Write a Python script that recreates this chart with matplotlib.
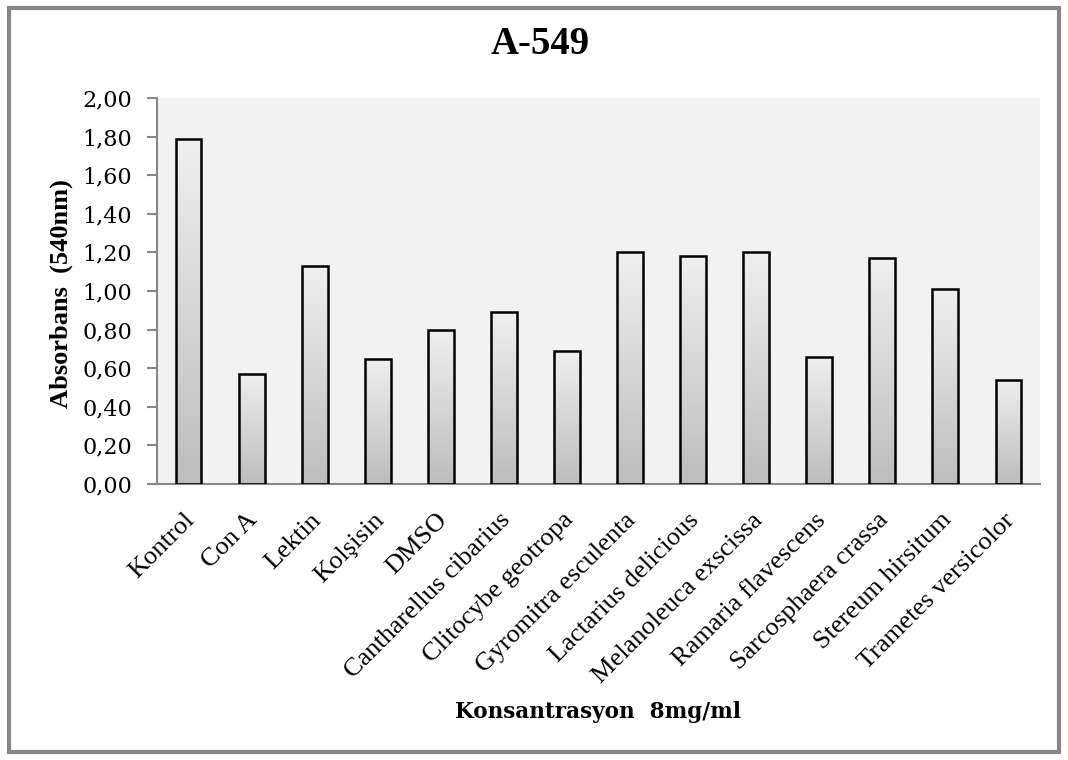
import matplotlib
matplotlib.use("Agg")
import matplotlib.pyplot as plt
import matplotlib.transforms as mtransforms
import numpy as np
from matplotlib.patches import Rectangle
from matplotlib.colors import LinearSegmentedColormap

categories = ["Kontrol", "Con A", "Lektin", "Kolşisin", "DMSO",
              "Cantharellus cibarius", "Clitocybe geotropa", "Gyromitra esculenta",
              "Lactarius delicious", "Melanoleuca exscissa", "Ramaria flavescens",
              "Sarcosphaera crassa", "Stereum hirsitum", "Trametes versicolor"]
values = [1.79, 0.57, 1.13, 0.65, 0.80, 0.89, 0.69, 1.20, 1.18, 1.20, 0.66, 1.17, 1.01, 0.54]
yticks = [0.0, 0.2, 0.4, 0.6, 0.8, 1.0, 1.2, 1.4, 1.6, 1.8, 2.0]
ytick_labels = ["0,00", "0,20", "0,40", "0,60", "0,80", "1,00", "1,20", "1,40",
                "1,60", "1,80", "2,00"]

times = ["Liberation Serif", "DejaVu Serif"]
cambria = ["DejaVu Serif"]

fig = plt.figure(figsize=(10.68, 7.6), dpi=100)
fig.patch.set_facecolor("white")
fig.add_artist(Rectangle((0.008, 0.011), 0.984, 0.978, transform=fig.transFigure,
                         fill=False, edgecolor="#878787", linewidth=3))

ax = fig.add_axes([157/1068, 1 - 484/760, (1040-157)/1068, (484-98)/760])
ax.set_facecolor("#f2f2f2")

x = np.arange(len(categories))
bars = ax.bar(x, values, width=0.41, facecolor="none", edgecolor="black",
              linewidth=1.8, zorder=3)
grad = np.linspace(0, 1, 256).reshape(-1, 1)
cmap = LinearSegmentedColormap.from_list("g", ["#bdbdbd", "#efefef"])
for b in bars:
    im = ax.imshow(grad, extent=[b.get_x(), b.get_x() + b.get_width(), 0, b.get_height()],
                   origin="lower", aspect="auto", cmap=cmap, zorder=2)
    im.set_clip_path(b)

ax.set_xlim(-0.5, len(categories) - 0.5)
ax.set_ylim(0, 2.0)
ax.set_yticks(yticks)
ax.set_yticklabels(ytick_labels, fontfamily=cambria, fontsize=16)
ax.set_xticks(x)
ax.set_xticklabels([])
label_tr = ax.get_xaxis_transform() + mtransforms.ScaledTranslation(
    -5 / 100, -25 / 100, fig.dpi_scale_trans)
for xi, name in zip(x, categories):
    ax.text(xi, 0, name, transform=label_tr, rotation=45, ha="right", va="top",
            rotation_mode="anchor", fontfamily=times, fontsize=19, clip_on=False)
ax.tick_params(axis="x", length=0)
ax.tick_params(axis="y", length=7, color="#878787", width=1.5, pad=11)
for s in ["top", "right"]:
    ax.spines[s].set_visible(False)
for s in ["left", "bottom"]:
    ax.spines[s].set_color("#878787")
    ax.spines[s].set_linewidth(1.5)

fig.text(61 / 1068, 1 - 294 / 760, "Absorbans  (540nm)", fontfamily=times, fontsize=19,
         fontweight="bold", rotation=90, ha="center", va="center")
fig.text(598 / 1068, 1 - 712 / 760, "Konsantrasyon  8mg/ml",
         fontfamily=cambria, fontsize=15.5, fontweight="bold", ha="center", va="center")
fig.text(540 / 1068, 1 - 44 / 760, "A-549", fontfamily=times,
         fontsize=28, fontweight="bold", ha="center", va="center")

fig.savefig("out.png", dpi=100, facecolor="white")
